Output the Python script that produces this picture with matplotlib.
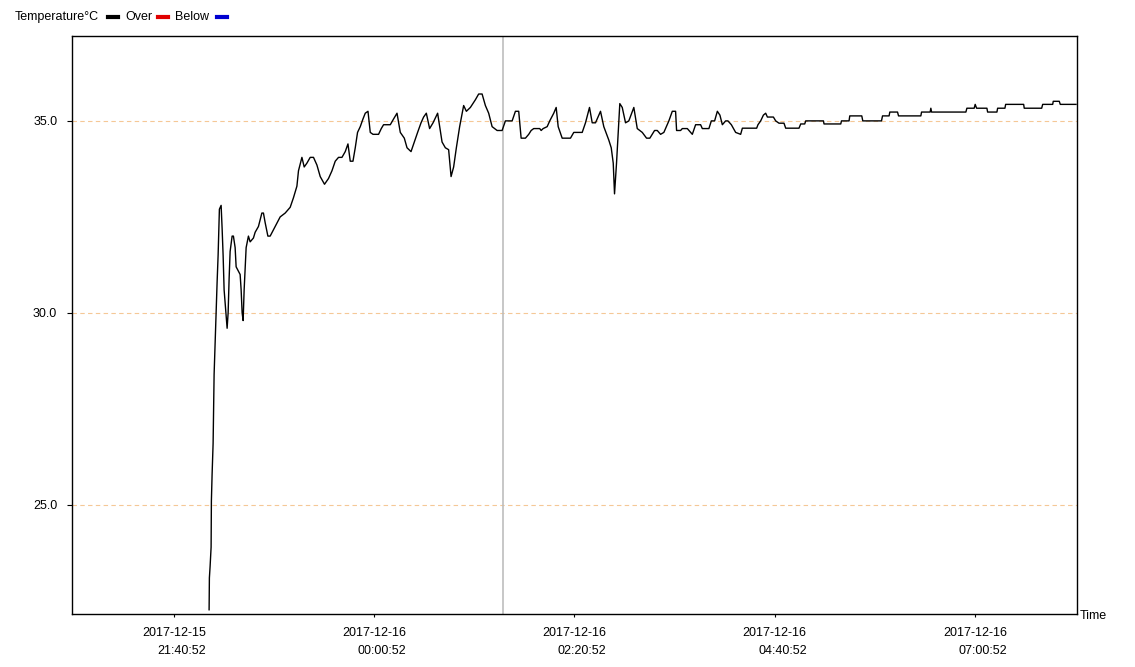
import matplotlib
matplotlib.use("Agg")
import matplotlib.pyplot as plt
from matplotlib.lines import Line2D
import pandas as pd

plt.rcParams['font.family'] = ['Liberation Sans', 'DejaVu Sans']

# readings: minutes since first sample, temperature in degC
start = pd.Timestamp("2017-12-15 22:05:22")
elapsed = [0, 0.2, 0.7, 1.4, 1.6, 2.1, 2.8, 3.5, 4.2, 4.9, 5.6, 6.3, 7.2, 8.4, 9.1, 9.8,
           10.5, 12.6, 13.3, 14.0, 14.7, 16.1, 17.0, 18.2, 18.9, 20.3, 21.7, 22.4, 23.1,
           23.8, 24.5, 25.9, 27.5, 28.7, 31.0, 32.2, 34.5, 36.9, 38.0, 39.2, 41.1, 42.7,
           46.2, 49.7, 53.2, 56.7, 59.0, 61.4, 62.5, 64.9, 66.5, 68.4, 70.7, 73.0, 75.4,
           77.7, 80.7, 83.5, 85.9, 88.2, 90.5, 92.9, 95.2, 97.1, 98.7, 100.6, 102.2,
           103.8, 105.7, 107.6, 109.2, 111.1, 112.7, 114.6, 118.5, 120.4, 122.0, 126.7,
           129.0, 131.4, 133.7, 136.5, 138.4, 141.2, 143.5, 145.8, 148.2, 150.0, 151.9,
           154.2, 156.6, 159.8, 162.9, 165.2, 167.5, 169.2, 171.0, 172.9, 175.2, 178.0,
           179.9, 182.7, 186.2, 188.5, 190.9, 193.2, 195.5, 197.9, 201.4, 204.9, 207.2,
           211.9, 214.2, 216.5, 218.2, 221.2, 223.5, 225.2, 227.0, 231.2, 232.2, 233.6,
           236.4, 238.2, 241.0, 242.7, 244.1, 246.9, 252.7, 255.0, 260.9, 263.2, 266.0,
           267.9, 270.2, 273.7, 276.0, 279.5, 281.2, 282.6, 283.5, 284.9, 287.2, 288.9,
           291.2, 293.5, 297.0, 299.4, 302.9, 305.9, 308.2, 311.5, 313.4, 315.7, 318.0,
           321.5, 323.9, 326.2, 326.9, 329.7, 330.9, 334.4, 337.9, 340.2, 343.7, 344.9,
           349.5, 351.2, 353.5, 355.4, 357.2, 358.9, 361.2, 362.8, 365.2, 368.2, 371.7,
           372.9, 382.9, 383.8, 385.7, 387.6, 389.2, 390.4, 394.6, 396.2, 398.5, 402.0,
           403.2, 412.5, 413.7, 416.5, 417.2, 429.6, 430.0, 441.7, 442.2, 447.5, 448.0,
           456.4, 457.1, 470.2, 470.9, 475.5, 476.0, 481.4, 482.1, 497.7, 498.2, 504.2,
           504.7, 505.2, 529.2, 529.9, 535.0, 535.7, 536.7, 543.9, 544.4, 550.9, 551.4,
           556.5, 557.0, 569.6, 570.0, 582.2, 582.9, 589.9, 590.3, 594.5, 595.2, 606.2]
temp = [22.27, 23.1, 23.4, 23.9, 25.1, 25.8, 26.6, 28.4, 29.2, 30.0, 30.8, 31.5, 32.7,
        32.8, 32.2, 31.5, 30.6, 29.6, 30.0, 30.9, 31.6, 32.0, 32.0, 31.7, 31.2, 31.1,
        31.0, 30.6, 30.0, 29.8, 30.6, 31.7, 32.0, 31.85, 31.95, 32.1, 32.25, 32.6, 32.6,
        32.35, 32.0, 32.0, 32.25, 32.5, 32.6, 32.75, 33.0, 33.3, 33.7, 34.05, 33.8, 33.9,
        34.05, 34.05, 33.85, 33.55, 33.35, 33.5, 33.7, 33.95, 34.05, 34.05, 34.2, 34.4,
        33.95, 33.95, 34.3, 34.7, 34.85, 35.05, 35.2, 35.25, 34.7, 34.65, 34.65, 34.8,
        34.9, 34.9, 35.05, 35.2, 34.7, 34.55, 34.3, 34.2, 34.45, 34.7, 34.95, 35.1, 35.2,
        34.8, 34.95, 35.2, 34.45, 34.3, 34.25, 33.55, 33.8, 34.3, 34.85, 35.4, 35.25,
        35.35, 35.55, 35.7, 35.7, 35.4, 35.2, 34.85, 34.75, 34.75, 35.0, 35.0, 35.25,
        35.25, 34.55, 34.55, 34.65, 34.75, 34.8, 34.8, 34.75, 34.8, 34.85, 35.0, 35.2,
        35.35, 34.85, 34.55, 34.55, 34.7, 34.7, 34.95, 35.35, 34.95, 34.95, 35.25, 34.85,
        34.5, 34.3, 33.9, 33.1, 33.9, 35.45, 35.35, 34.95, 35.0, 35.35, 34.8, 34.7, 34.55,
        34.55, 34.75, 34.75, 34.65, 34.7, 35.0, 35.25, 35.25, 34.75, 34.75, 34.8, 34.8,
        34.65, 34.9, 34.9, 34.8, 34.8, 35.0, 35.0, 35.25, 35.15, 34.9, 35.0, 35.0, 34.9,
        34.7, 34.65, 34.81, 34.81, 34.9, 35.0, 35.15, 35.2, 35.1, 35.1, 35.0, 34.94,
        34.94, 34.81, 34.81, 34.92, 34.92, 35.0, 35.0, 34.92, 34.92, 35.0, 35.0, 35.13,
        35.13, 35.0, 35.0, 35.13, 35.13, 35.23, 35.23, 35.13, 35.13, 35.23, 35.23, 35.33,
        35.23, 35.23, 35.33, 35.33, 35.43, 35.33, 35.33, 35.23, 35.23, 35.33, 35.33,
        35.43, 35.43, 35.33, 35.33, 35.43, 35.43, 35.51, 35.51, 35.43, 35.43]

marker_time = pd.Timestamp("2017-12-16 01:31:10")
x_min = pd.Timestamp("2017-12-15 20:29:28")
x_max = pd.Timestamp("2017-12-16 08:12:16")
tick_times = pd.date_range("2017-12-15 21:40:52", periods=5, freq="140min")
y_ticks = [25.0, 30.0, 35.0]

times = start + pd.to_timedelta(elapsed, unit="min")

fig = plt.figure(figsize=(11.35, 6.67), dpi=100)
ax = fig.add_axes([0.0634, 0.0795, 0.8855, 0.8665])

for y in y_ticks:
    ax.axhline(y, color='#f5c896', lw=0.8, ls=(0, (4, 3)), zorder=1)
ax.axvline(marker_time, color='#bdbdbd', lw=1.2, zorder=1)
ax.plot(times, temp, color='black', lw=1.0, zorder=3)

ax.set_xlim(x_min, x_max)
ax.set_ylim(22.16, 37.21)
ax.set_xticks(tick_times)
ax.set_xticklabels([t.strftime("%Y-%m-%d\n%H:%M:%S") for t in tick_times],
                   fontsize=9, ha='center', multialignment='right', linespacing=1.6)
ax.set_yticks(y_ticks)
ax.set_yticklabels(["%.1f" % v for v in y_ticks], fontsize=9)
ax.tick_params(axis='x', length=2.5, pad=7)
ax.tick_params(axis='y', length=3.6, pad=7)
for s in ax.spines.values():
    s.set_linewidth(1.0)

fig.text(1080 / 1135, 1 - 616 / 667, "Time", fontsize=9, ha='left', va='center')

# legend row at the top
ly = 1 - 17 / 667
fig.text(15 / 1135, ly, "Temperature°C", fontsize=9, va='center')
for x0, label, col in [(108, "Over", 'black'), (158, "Below", '#e00000'), (217, None, '#0000d0')]:
    fig.add_artist(Line2D([x0 / 1135, (x0 + 10) / 1135], [ly, ly], color=col, lw=3,
                          transform=fig.transFigure))
    if label:
        fig.text((x0 + 17) / 1135, ly, label, fontsize=9, va='center')

fig.savefig("out.png", dpi=100)
